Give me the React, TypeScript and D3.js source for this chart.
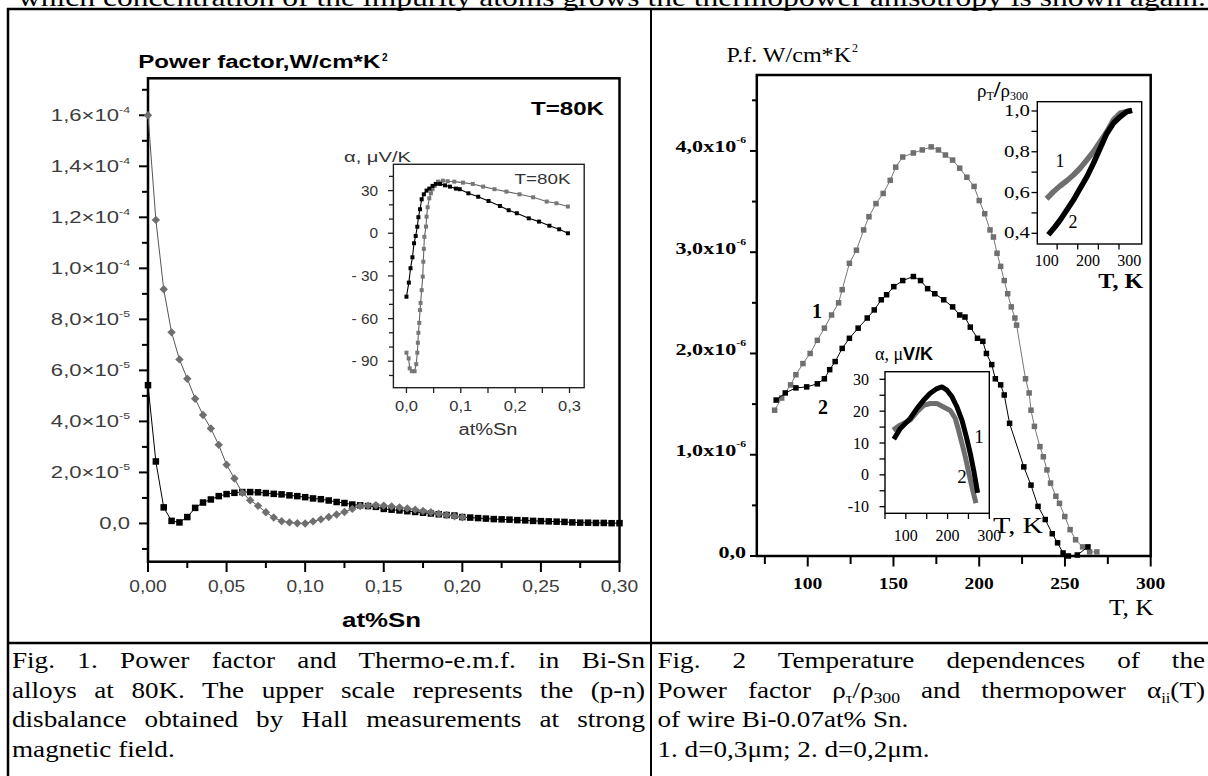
import React, { useLayoutEffect, useRef } from "react";
import * as d3 from "d3";

// ================= DATA =================
// Fig. 1 main : power factor (units of 1e-5 W/cm*K^2) vs at% Sn
const fig1DiamondX = [0, 0.005, 0.01, 0.015, 0.02, 0.025, 0.03, 0.035, 0.04, 0.045, 0.05, 0.055, 0.06, 0.065, 0.07, 0.075, 0.08, 0.085, 0.09, 0.095, 0.1, 0.105, 0.11, 0.115, 0.12, 0.125, 0.13, 0.135, 0.14, 0.145, 0.15, 0.155, 0.16, 0.165, 0.17, 0.175, 0.18, 0.185, 0.19, 0.195, 0.2];
const fig1DiamondY = [16.0, 11.9, 9.18, 7.49, 6.43, 5.67, 4.89, 4.25, 3.72, 3.08, 2.3, 1.76, 1.2, 0.91, 0.69, 0.44, 0.23, 0.09, 0.04, 0.01, 0.0, 0.08, 0.16, 0.25, 0.35, 0.45, 0.57, 0.68, 0.7, 0.71, 0.7, 0.67, 0.63, 0.59, 0.54, 0.49, 0.44, 0.38, 0.33, 0.28, 0.24];
const fig1SquareX = [0, 0.005, 0.01, 0.015, 0.02, 0.025, 0.03, 0.035, 0.04, 0.045, 0.05, 0.055, 0.06, 0.065, 0.07, 0.075, 0.08, 0.085, 0.09, 0.095, 0.1, 0.105, 0.11, 0.115, 0.12, 0.125, 0.13, 0.135, 0.14, 0.145, 0.15, 0.155, 0.16, 0.165, 0.17, 0.175, 0.18, 0.185, 0.19, 0.195, 0.2, 0.205, 0.21, 0.215, 0.22, 0.225, 0.23, 0.235, 0.24, 0.245, 0.25, 0.255, 0.26, 0.265, 0.27, 0.275, 0.28, 0.285, 0.29, 0.295, 0.3];
const fig1SquareY = [5.42, 2.43, 0.63, 0.1, 0.04, 0.25, 0.61, 0.82, 0.94, 1.07, 1.15, 1.2, 1.23, 1.23, 1.22, 1.19, 1.16, 1.14, 1.1, 1.07, 1.03, 0.98, 0.95, 0.9, 0.84, 0.8, 0.74, 0.71, 0.68, 0.65, 0.57, 0.54, 0.51, 0.48, 0.45, 0.42, 0.39, 0.36, 0.33, 0.31, 0.25, 0.23, 0.21, 0.19, 0.17, 0.16, 0.15, 0.13, 0.12, 0.1, 0.09, 0.08, 0.07, 0.06, 0.04, 0.03, 0.03, 0.02, 0.02, 0.01, 0.01];
const fig1YTicks = [0, 2, 4, 6, 8, 10, 12, 14, 16];
const fig1YMinor = [-1, 1, 3, 5, 7, 9, 11, 13, 15, 17];
const fig1YLabelMain = ["0,0", "2,0×10", "4,0×10", "6,0×10", "8,0×10", "1,0×10", "1,2×10", "1,4×10", "1,6×10"];
const fig1YLabelExp = ["", "-5", "-5", "-5", "-5", "-4", "-4", "-4", "-4"];
const fig1XTicks = [0, 0.05, 0.1, 0.15, 0.2, 0.25, 0.3];
const fig1XMinor = [0.025, 0.075, 0.125, 0.175, 0.225, 0.275];
const fig1XLabels = ["0,00", "0,05", "0,10", "0,15", "0,20", "0,25", "0,30"];

// Fig. 1 inset : thermopower (μV/K) vs at% Sn
const insetBlackX = [0, 0.0044, 0.0075, 0.011, 0.014, 0.017, 0.02, 0.022, 0.025, 0.028, 0.032, 0.037, 0.042, 0.048, 0.054, 0.062, 0.071, 0.08, 0.091, 0.098, 0.114, 0.132, 0.151, 0.172, 0.188, 0.203, 0.225, 0.244, 0.263, 0.281, 0.297];
const insetBlackY = [-44.6, -34.7, -24.6, -16.9, -7, -1.9, 4.6, 11.3, 16.9, 23.9, 27.4, 30, 31.4, 33.3, 34.7, 34.7, 33.7, 32.8, 31.4, 31, 28.1, 25.7, 22.7, 19.2, 16.2, 14.1, 10.5, 8.2, 5.3, 2.8, 0];
const insetGreyX = [0, 0.004, 0.006, 0.01, 0.015, 0.018, 0.02, 0.021, 0.022, 0.0235, 0.025, 0.026, 0.028, 0.03, 0.031, 0.032, 0.033, 0.036, 0.037, 0.039, 0.042, 0.045, 0.048, 0.052, 0.058, 0.067, 0.076, 0.088, 0.104, 0.122, 0.141, 0.162, 0.184, 0.208, 0.233, 0.258, 0.276, 0.297];
const insetGreyY = [-84, -88, -95, -97, -97, -92, -84, -77, -70, -63, -54, -49, -40, -30.5, -20, -11, -2.5, 4.7, 11.7, 18.3, 24.6, 28.1, 31, 33.3, 36.3, 37, 36.6, 36.3, 35.6, 34.7, 32.8, 31, 29.3, 27.4, 25.3, 22.3, 21.1, 18.8];
const insetYTicks = [30, 0, -30, -60, -90];
const insetYLabels = ["30", "0", "- 30", "- 60", "- 90"];
const insetYMinor = [40, 20, 10, -10, -20, -40, -50, -70, -80, -100];
const insetXTicks = [0, 0.1, 0.2, 0.3];
const insetXLabels = ["0,0", "0,1", "0,2", "0,3"];
const insetXMinor = [0.05, 0.15, 0.25];

// Fig. 2 main : power factor (units of 1e-6 W/cm*K^2) vs T (K)
const fig2GreyT = [80.7, 84.8, 90, 93.1, 97.2, 101.4, 105.6, 109.7, 113.9, 118, 120.1, 124.3, 128.4, 132.6, 135.7, 139.8, 144, 148.1, 151.3, 155.4, 161.6, 166.8, 172, 176.2, 180.3, 184.5, 188.6, 192.8, 197, 200, 203.2, 206.3, 208.3, 210.4, 212.5, 214.6, 216.6, 218.7, 220.8, 221.8, 227, 229.1, 230.2, 232.2, 235.4, 237.4, 239.5, 241.6, 244.7, 246.8, 249.9, 253, 256.2, 260.3, 264.4, 268.6];
const fig2GreyPF = [1.44, 1.56, 1.69, 1.79, 1.9, 2.0, 2.13, 2.25, 2.38, 2.5, 2.63, 2.89, 3.02, 3.22, 3.35, 3.48, 3.58, 3.71, 3.84, 3.94, 3.98, 4.01, 4.04, 4.01, 3.96, 3.91, 3.83, 3.74, 3.65, 3.51, 3.38, 3.22, 3.15, 2.99, 2.86, 2.72, 2.59, 2.46, 2.35, 2.28, 1.75, 1.61, 1.44, 1.28, 1.08, 0.98, 0.85, 0.72, 0.59, 0.52, 0.39, 0.26, 0.16, 0.09, 0.04, 0.04];
const fig2BlackT = [81.6, 86.9, 93.1, 99.4, 105.6, 109.7, 112.8, 116, 120.1, 124.3, 129.4, 134.7, 138.8, 142.9, 146, 150.2, 155.4, 161.6, 165.8, 169.9, 174.1, 179.3, 184.5, 188.6, 191.7, 194.8, 199, 202.1, 204.2, 207.3, 209.4, 212.5, 214.6, 217.7, 226, 230.2, 234.3, 238.5, 242.6, 245.7, 248.9, 252, 257.2, 263.4];
const fig2BlackPF = [1.54, 1.61, 1.66, 1.67, 1.7, 1.75, 1.84, 1.92, 2.05, 2.15, 2.25, 2.35, 2.43, 2.53, 2.58, 2.66, 2.72, 2.76, 2.72, 2.64, 2.59, 2.53, 2.46, 2.38, 2.36, 2.26, 2.15, 2.12, 2.0, 1.89, 1.75, 1.69, 1.59, 1.31, 0.88, 0.7, 0.49, 0.36, 0.22, 0.13, 0.03, 0.0, 0.01, 0.09];
const fig2YTicks = [0, 1, 2, 3, 4];
const fig2YMinor = [0.5, 1.5, 2.5, 3.5, 4.5];
const fig2YLabelMain = ["0,0", "1,0x10", "2,0x10", "3,0x10", "4,0x10"];
const fig2YLabelExp = ["", "-6", "-6", "-6", "-6"];
const fig2XTicks = [100, 150, 200, 250, 300];
const fig2XMinor = [75, 125, 175, 225, 275];

// Fig. 2 upper inset : rho_T / rho_300 vs T
const rhoGreyT = [104, 116, 132, 148.5, 164.5, 180.7, 197, 213, 229.2, 245.4, 261.4, 277.7, 300];
const rhoGreyR = [0.579, 0.604, 0.632, 0.658, 0.686, 0.719, 0.759, 0.8, 0.849, 0.898, 0.956, 0.989, 1.0];
const rhoBlackT = [108, 120, 132, 148.5, 164.5, 180.7, 197, 213, 229.2, 245.4, 261.4, 277.7, 294, 300];
const rhoBlackR = [0.403, 0.432, 0.464, 0.514, 0.563, 0.62, 0.677, 0.743, 0.817, 0.89, 0.94, 0.972, 0.997, 1.0];
const rhoYTicks = [0.4, 0.6, 0.8, 1.0];
const rhoYLabels = ["0,4", "0,6", "0,8", "1,0"];
const rhoYMinor = [0.5, 0.7, 0.9];
const rhoXTickMarks = [125, 175, 225, 275];
const rhoXLabelPos = [100, 200, 300];

// Fig. 2 lower inset : thermopower (μV/K) vs T
const alphaBlackT = [74.3, 86.3, 110.3, 126.4, 142.3, 158.4, 174.5, 186.5, 198.6, 210.6, 222.6, 234.6, 245, 254.6, 262.6, 271];
const alphaBlackA = [11.9, 14.5, 17.7, 20.8, 23.4, 25.6, 27.1, 27.6, 26.6, 24.5, 21.3, 17.1, 11.9, 6.6, 1.4, -4.9];
const alphaGreyT = [74.3, 86.3, 110.3, 126.4, 142.3, 158.4, 174.5, 190.4, 206.5, 218.5, 226.4, 234.6, 242.6, 250.5, 258.6, 266.6];
const alphaGreyA = [14.5, 15.6, 17.2, 19.7, 21.8, 22.4, 22.4, 21.3, 20.2, 17.7, 14.0, 9.8, 5.6, 0.8, -3.9, -8.1];
const alphaYTicks = [-10, 0, 10, 20, 30];
const alphaYMinor = [-5, 5, 15, 25];
const alphaXTicks = [100, 150, 200, 250, 300];
const alphaXLabelPos = [100, 200, 300];

const topLine = "which concentration of the impurity atoms grows the thermopower anisotropy is shown again.";

// ================= STYLE =================
const SANS = "'Liberation Sans', Arial, Helvetica, sans-serif";
const SERIF = "'Liberation Serif', 'Times New Roman', Times, serif";
const GREY = "#6f6f6f";

function T(props: any) {
  const { x, y, sx = 1, anchor = "start", size, family = SANS, weight = "normal", fill = "#000", len, children } = props;
  return (
    <text
      transform={`translate(${x},${y}) scale(${sx},1)`}
      textAnchor={anchor}
      fontSize={size}
      fontFamily={family}
      fontWeight={weight}
      fill={fill}
      textLength={len}
      lengthAdjust={len ? "spacingAndGlyphs" : undefined}
    >
      {children}
    </text>
  );
}

function Cap(props: any) {
  const { x, y, width, justify, sx = 1.18, children } = props;
  const ref = useRef<SVGTextElement>(null);
  useLayoutEffect(() => {
    const el = ref.current;
    if (!el) return;
    el.style.wordSpacing = "0px";
    if (!justify) return;
    const natural = el.getComputedTextLength();
    const spaces = (el.textContent || "").split(" ").length - 1;
    if (spaces > 0) el.style.wordSpacing = `${(width / sx - natural) / spaces}px`;
  }, []);
  return (
    <text ref={ref} transform={`translate(${x},${y}) scale(${sx},1)`} fontFamily={SERIF} fontSize={23} fill="#000" xmlSpace="preserve">
      {children}
    </text>
  );
}

function squares(xs: number[], ys: number[], sx: any, sy: any, s: number, fill: string, key: string) {
  return xs.map((v, i) => (
    <rect key={key + i} x={sx(v) - s / 2} y={sy(ys[i]) - s / 2} width={s} height={s} fill={fill} />
  ));
}

function path(xs: number[], ys: number[], sx: any, sy: any) {
  const pts = d3.zip(xs, ys) as [number, number][];
  return d3.line<[number, number]>().x((d) => sx(d[0])).y((d) => sy(d[1]))(pts) || "";
}

export default function App() {
  // Fig 1 scales
  const f1x = d3.scaleLinear().domain([0, 0.3]).range([148, 619.5]);
  const f1y = d3.scaleLinear().domain([-1.5, 17.45]).range([561.7, 78.3]);
  const f1ix = d3.scaleLinear().domain([-0.024, 0.327]).range([393.4, 584.2]);
  const f1iy = d3.scaleLinear().domain([-108.6, 48.5]).range([387.7, 164.3]);
  // Fig 2 scales
  const f2x = d3.scaleLinear().domain([70.3, 300]).range([756.8, 1150.7]);
  const f2y = d3.scaleLinear().domain([0, 4.75]).range([556, 75]);
  const rx = d3.scaleLinear().domain([77, 330]).range([1037.3, 1141.7]);
  const ry = d3.scaleLinear().domain([0.4, 1.0]).range([233.3, 111]);
  const ax = d3.scaleLinear().domain([50, 300]).range([885, 989.3]);
  const ay = d3.scaleLinear().domain([-10, 30]).range([506.7, 379.3]);

  const diamond = (cx: number, cy: number, r: number) => `M${cx},${cy - r}L${cx + r},${cy}L${cx},${cy + r}L${cx - r},${cy}Z`;

  return (
    <div style={{ position: "absolute", left: 0, top: 0, width: 1208, height: 776, background: "#fff" }}>
      <svg width={1208} height={776} style={{ display: "block" }}>
        <rect x={0} y={0} width={1208} height={776} fill="#fff" />
        {/* top running text */}
        <T x={18} y={6} size={26} family={SERIF} len={1188}>{topLine}</T>

        {/* table borders */}
        <line x1={7} x2={1208} y1={9} y2={9} stroke="#000" strokeWidth={2.5} />
        <line x1={8} x2={8} y1={8} y2={776} stroke="#000" strokeWidth={2.5} />
        <line x1={651} x2={651} y1={8} y2={776} stroke="#000" strokeWidth={2} />
        <line x1={7} x2={1208} y1={643} y2={643} stroke="#000" strokeWidth={2.5} />

        {/* ================= FIG 1 ================= */}
        <T x={138.3} y={68} size={17.5} weight="bold" len={242}>Power factor,W/cm*K</T>
        <T x={382} y={61} size={10} weight="bold">2</T>
        <rect x={148} y={78.3} width={471.5} height={483.4} fill="none" stroke="#000" strokeWidth={2.5} />
        {fig1YTicks.map((v) => (
          <line key={"f1yt" + v} x1={139} x2={148} y1={f1y(v)} y2={f1y(v)} stroke="#000" strokeWidth={2} />
        ))}
        {fig1YMinor.map((v) => (
          <line key={"f1ym" + v} x1={142} x2={148} y1={f1y(v)} y2={f1y(v)} stroke="#000" strokeWidth={2} />
        ))}
        {fig1XTicks.map((v) => (
          <line key={"f1xt" + v} x1={f1x(v)} x2={f1x(v)} y1={561.7} y2={572} stroke="#000" strokeWidth={2} />
        ))}
        {fig1XMinor.map((v) => (
          <line key={"f1xm" + v} x1={f1x(v)} x2={f1x(v)} y1={561.7} y2={568} stroke="#000" strokeWidth={2} />
        ))}
        {fig1YTicks.map((v, i) => (
          <text key={"f1yl" + v} transform={`translate(130,${f1y(v) + 6}) scale(1.3,1)`} textAnchor="end" fontFamily={SANS} fontSize={17} fill="#3c3c3c">
            {fig1YLabelMain[i]}
            {fig1YLabelExp[i] ? <tspan fontSize={9.5} dy={-8}>{fig1YLabelExp[i]}</tspan> : null}
          </text>
        ))}
        {fig1XTicks.map((v, i) => (
          <T key={"f1xl" + v} x={f1x(v)} y={592} sx={1.2} anchor="middle" size={16} fill="#3c3c3c">{fig1XLabels[i]}</T>
        ))}
        <T x={342} y={627} size={20} weight="bold" len={79}>at%Sn</T>
        <T x={531} y={115} size={19} weight="bold" len={73}>T=80K</T>

        {/* squares series */}
        <path d={path(fig1SquareX, fig1SquareY, f1x, f1y)} fill="none" stroke="#000" strokeWidth={1} />
        {squares(fig1SquareX, fig1SquareY, f1x, f1y, 6.5, "#000", "f1s")}
        {/* diamonds series */}
        <path d={path(fig1DiamondX, fig1DiamondY, f1x, f1y)} fill="none" stroke="#555" strokeWidth={1} />
        {fig1DiamondX.map((v, i) => (
          <path key={"f1d" + i} d={diamond(f1x(v), f1y(fig1DiamondY[i]), 4.2)} fill={GREY} />
        ))}

        {/* Fig 1 inset */}
        <rect x={393.4} y={164.3} width={190.8} height={223.4} fill="#fff" stroke="#222" strokeWidth={1.4} />
        {insetYTicks.map((v) => (
          <line key={"iyt" + v} x1={388} x2={393.4} y1={f1iy(v)} y2={f1iy(v)} stroke="#222" strokeWidth={1.3} />
        ))}
        {insetYMinor.map((v) => (
          <line key={"iym" + v} x1={389} x2={393.4} y1={f1iy(v)} y2={f1iy(v)} stroke="#222" strokeWidth={1.3} />
        ))}
        {insetXTicks.concat(insetXMinor).map((v) => (
          <line key={"ixt" + v} x1={f1ix(v)} x2={f1ix(v)} y1={387.7} y2={393} stroke="#222" strokeWidth={1.3} />
        ))}
        {insetYTicks.map((v, i) => (
          <T key={"iyl" + v} x={378} y={f1iy(v) + 5} sx={1.1} anchor="end" size={14} fill="#333">{insetYLabels[i]}</T>
        ))}
        {insetXTicks.map((v, i) => (
          <T key={"ixl" + v} x={f1ix(v)} y={411} sx={1.18} anchor="middle" size={14} fill="#333">{insetXLabels[i]}</T>
        ))}
        <T x={344} y={162} size={15} fill="#333" len={67}>α, μV/K</T>
        <T x={514.5} y={184} size={15} fill="#333" len={56}>T=80K</T>
        <T x={458.5} y={435} size={16} fill="#333" len={59}>at%Sn</T>
        <path d={path(insetGreyX, insetGreyY, f1ix, f1iy)} fill="none" stroke="#666" strokeWidth={1.1} />
        {squares(insetGreyX, insetGreyY, f1ix, f1iy, 4, "#777", "igs")}
        <path d={path(insetBlackX, insetBlackY, f1ix, f1iy)} fill="none" stroke="#000" strokeWidth={1.1} />
        {squares(insetBlackX, insetBlackY, f1ix, f1iy, 4, "#000", "ibs")}

        {/* ================= FIG 2 ================= */}
        <T x={726.5} y={61.5} size={20} family={SERIF} len={124.5}>P.f. W/cm*K</T>
        <T x={852} y={52} size={12} family={SERIF}>2</T>
        <rect x={756.8} y={75} width={393.9} height={481} fill="none" stroke="#000" strokeWidth={2.5} />
        {fig2YTicks.map((v) => (
          <line key={"f2yt" + v} x1={750} x2={756.8} y1={f2y(v)} y2={f2y(v)} stroke="#000" strokeWidth={2} />
        ))}
        {fig2YMinor.map((v) => (
          <line key={"f2ym" + v} x1={752} x2={756.8} y1={f2y(v)} y2={f2y(v)} stroke="#000" strokeWidth={2} />
        ))}
        {fig2XTicks.map((v) => (
          <line key={"f2xt" + v} x1={f2x(v)} x2={f2x(v)} y1={556} y2={566.5} stroke="#000" strokeWidth={2} />
        ))}
        {fig2XMinor.map((v) => (
          <line key={"f2xm" + v} x1={f2x(v)} x2={f2x(v)} y1={556} y2={564} stroke="#000" strokeWidth={2} />
        ))}
        {fig2YTicks.map((v, i) => (
          <text key={"f2yl" + v} transform={`translate(746,${f2y(v) + 1.5}) scale(1.3,1)`} textAnchor="end" fontFamily={SERIF} fontWeight="bold" fontSize={17} fill="#000">
            {fig2YLabelMain[i]}
            {fig2YLabelExp[i] ? <tspan fontSize={9} dy={-9}>{fig2YLabelExp[i]}</tspan> : null}
          </text>
        ))}
        {fig2XTicks.map((v) => (
          <T key={"f2xl" + v} x={f2x(v)} y={588.5} sx={1.15} anchor="middle" size={17} family={SERIF} weight="bold">{String(v)}</T>
        ))}
        <T x={1109} y={615} size={23} family={SERIF} len={44.6}>T, K</T>

        <path d={path(fig2GreyT, fig2GreyPF, f2x, f2y)} fill="none" stroke="#777" strokeWidth={1} />
        {squares(fig2GreyT, fig2GreyPF, f2x, f2y, 5.5, GREY, "f2g")}
        <path d={path(fig2BlackT, fig2BlackPF, f2x, f2y)} fill="none" stroke="#000" strokeWidth={1} />
        {squares(fig2BlackT, fig2BlackPF, f2x, f2y, 5.5, "#000", "f2b")}
        <T x={817} y={318} anchor="middle" size={20} family={SERIF} weight="bold">1</T>
        <T x={823} y={414} anchor="middle" size={20} family={SERIF} weight="bold">2</T>

        {/* Fig 2 upper inset */}
        <rect x={1037.3} y={101.7} width={104.4} height={142.3} fill="#fff" stroke="#000" strokeWidth={1.4} />
        {rhoYTicks.concat(rhoYMinor).map((v) => (
          <line key={"ryt" + v} x1={1031.5} x2={1037.3} y1={ry(v)} y2={ry(v)} stroke="#000" strokeWidth={1.3} />
        ))}
        {rhoXTickMarks.map((v) => (
          <line key={"rxt" + v} x1={rx(v)} x2={rx(v)} y1={244} y2={249.5} stroke="#000" strokeWidth={1.3} />
        ))}
        {rhoYTicks.map((v, i) => (
          <T key={"ryl" + v} x={1030} y={ry(v) + 5} sx={1.3} anchor="end" size={16} family={SERIF}>{rhoYLabels[i]}</T>
        ))}
        {rhoXLabelPos.map((v) => (
          <T key={"rxl" + v} x={rx(v)} y={266} anchor="middle" size={16} family={SERIF}>{String(v)}</T>
        ))}
        <T x={1098.3} y={287.5} size={21} family={SERIF} weight="bold" len={45}>T, K</T>
        <text x={977} y={97} fontFamily={SERIF} fontSize={19} fill="#000">
          ρ<tspan fontSize={12} dy={3}>T</tspan>
          <tspan fontSize={24} fontWeight="bold" dy={-3}>/</tspan>ρ<tspan fontSize={12} dy={3}>300</tspan>
        </text>
        <path d={path(rhoGreyT, rhoGreyR, rx, ry)} fill="none" stroke="#6e6e6e" strokeWidth={5.5} strokeLinecap="square" strokeLinejoin="round" />
        <path d={path(rhoBlackT, rhoBlackR, rx, ry)} fill="none" stroke="#000" strokeWidth={5.5} strokeLinecap="square" strokeLinejoin="round" />
        <T x={1060} y={167} anchor="middle" size={18} family={SERIF}>1</T>
        <T x={1073} y={228} anchor="middle" size={18} family={SERIF}>2</T>

        {/* Fig 2 lower inset */}
        <rect x={885} y={371.7} width={104.3} height={141.6} fill="#fff" stroke="#000" strokeWidth={1.4} />
        {alphaYTicks.concat(alphaYMinor).map((v) => (
          <line key={"ayt" + v} x1={879.5} x2={885} y1={ay(v)} y2={ay(v)} stroke="#000" strokeWidth={1.3} />
        ))}
        {alphaXTicks.map((v) => (
          <line key={"axt" + v} x1={ax(v)} x2={ax(v)} y1={513.3} y2={519} stroke="#000" strokeWidth={1.3} />
        ))}
        <line x1={885} x2={885} y1={513.3} y2={519} stroke="#000" strokeWidth={1.3} />
        {alphaYTicks.map((v) => (
          <T key={"ayl" + v} x={869} y={ay(v) + 5.5} anchor="end" size={16} family={SERIF}>{String(v)}</T>
        ))}
        {alphaXLabelPos.map((v) => (
          <T key={"axl" + v} x={ax(v)} y={541} anchor="middle" size={16} family={SERIF}>{String(v)}</T>
        ))}
        <text x={875} y={360} fontSize={18} fill="#000">
          <tspan fontFamily={SERIF}>α, μ</tspan>
          <tspan fontFamily={SANS} fontWeight="bold">V/K</tspan>
        </text>
        <T x={993} y={533} size={24} family={SERIF} len={50}>T, K</T>
        <path d={path(alphaGreyT, alphaGreyA, ax, ay)} fill="none" stroke="#6e6e6e" strokeWidth={5} strokeLinecap="square" strokeLinejoin="round" />
        <path d={path(alphaBlackT, alphaBlackA, ax, ay)} fill="none" stroke="#000" strokeWidth={5} strokeLinecap="square" strokeLinejoin="round" />
        <T x={979} y={443} anchor="middle" size={19} family={SERIF}>1</T>
        <T x={962} y={483} anchor="middle" size={19} family={SERIF}>2</T>

        {/* ================= CAPTIONS ================= */}
        <Cap x={12} y={668} width={633} justify>Fig. 1. Power factor and Thermo-e.m.f. in Bi-Sn</Cap>
        <Cap x={12} y={698} width={633} justify>alloys at 80K. The upper scale represents the (p-n)</Cap>
        <Cap x={12} y={727} width={633} justify>disbalance obtained by Hall measurements at strong</Cap>
        <Cap x={12} y={757}>magnetic field.</Cap>
        <Cap x={657.5} y={668} width={547.5} justify>Fig. 2 Temperature dependences of the</Cap>
        <Cap x={657.5} y={698} width={547.5} justify>
          {"Power factor ρ"}
          <tspan fontSize={14} dy={5}>τ</tspan>
          <tspan dy={-5}>/ρ</tspan>
          <tspan fontSize={15} dy={5}>300</tspan>
          <tspan dy={-5}>{" and thermopower α"}</tspan>
          <tspan fontSize={14} dy={5}>ii</tspan>
          <tspan dy={-5}>(T)</tspan>
        </Cap>
        <Cap x={657.5} y={727}>of wire Bi-0.07at% Sn.</Cap>
        <Cap x={657.5} y={757}>1. d=0,3μm; 2. d=0,2μm.</Cap>
      </svg>
    </div>
  );
}
